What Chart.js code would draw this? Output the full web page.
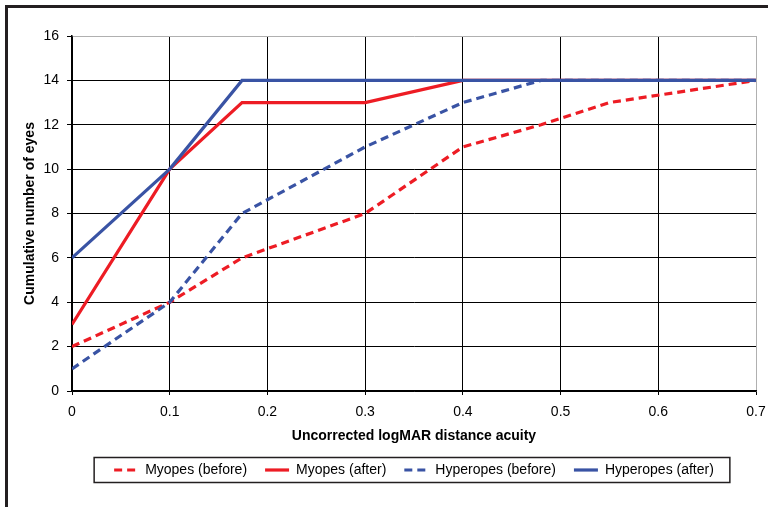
<!DOCTYPE html>
<html>
<head>
<meta charset="utf-8">
<script src="https://cdn.jsdelivr.net/npm/chart.js@4"></script>
<style>
  body { margin: 0; background: #fff; }
  #wrap { position: relative; width: 768px; height: 507px; }
  #frame {
    position: absolute; left: 5px; top: 5px; width: 780px; height: 520px;
    border-left: 3px solid #231f20; border-top: 3px solid #231f20;
  }
  canvas { position: absolute; left: 0; top: 0; }
</style>
</head>
<body>
<div id="wrap">
  <div id="frame"></div>
  <canvas id="chart" width="768" height="507"></canvas>
</div>
<script>

// data
const myopesBeforeX = [0, 0.1, 0.174, 0.3, 0.4, 0.48, 0.55, 0.7];
const myopesBeforeY = [2, 4, 6, 8, 11, 12, 13, 14];

const myopesAfterX = [0, 0.1, 0.174, 0.3, 0.4, 0.7];
const myopesAfterY = [3, 10, 13, 13, 14, 14];

const hyperBeforeX = [0, 0.1, 0.174, 0.3, 0.4, 0.48, 0.7];
const hyperBeforeY = [1, 4, 8, 11, 13, 14, 14];

const hyperAfterX = [0, 0.1, 0.174, 0.7];
const hyperAfterY = [6, 10, 14, 14];

const seriesNames = ["Myopes (before)", "Myopes (after)", "Hyperopes (before)", "Hyperopes (after)"];

const RED = "#ed1c24";
const BLUE = "#3953a4";

function toPoints(xs, ys) {
  return xs.map((x, i) => ({ x: x, y: ys[i] }));
}

function lineSet(label, xs, ys, color, dashed, order) {
  return {
    label: label,
    data: toPoints(xs, ys),
    borderColor: color,
    backgroundColor: color,
    borderWidth: 3.2,
    borderDash: dashed ? [8, 5] : [],
    pointRadius: 0,
    tension: 0,
    showLine: true,
    order: order
  };
}


// legend samples: take dash and width from the line, not the point
function legendLabels(chart) {
  const items = Chart.defaults.plugins.legend.labels.generateLabels(chart);
  items.forEach(it => {
    const ds = chart.data.datasets[it.datasetIndex];
    it.lineDash = ds.borderDash;
    it.lineWidth = 3.2;
    it.strokeStyle = ds.borderColor;
  });
  return items.sort((a, b) => a.datasetIndex - b.datasetIndex);
}


// draws the box round the legend
const legendBox = {
  id: "legendBox",
  afterDraw(chart) {
    const boxes = chart.legend.legendHitBoxes;
    if (!boxes || !boxes.length) return;
    const first = boxes[0];
    const last = boxes[boxes.length - 1];
    const cy = first.top + first.height / 2;
    const ctx = chart.ctx;
    ctx.save();
    ctx.strokeStyle = "#231f20";
    ctx.lineWidth = 1.5;
    ctx.strokeRect(first.left - 20, cy - 12.5, last.left + last.width - first.left + 36, 25);
    ctx.restore();
  }
};


new Chart(document.getElementById("chart"), {
  type: "scatter",
  data: {
    datasets: [
      lineSet(seriesNames[0], myopesBeforeX, myopesBeforeY, RED, true, 3),
      lineSet(seriesNames[1], myopesAfterX, myopesAfterY, RED, false, 2),
      lineSet(seriesNames[2], hyperBeforeX, hyperBeforeY, BLUE, true, 1),
      lineSet(seriesNames[3], hyperAfterX, hyperAfterY, BLUE, false, 0)
    ]
  },
  options: {
    responsive: false,
    animation: false,
    layout: { padding: { left: 18, top: 36, right: 12, bottom: 20 } },
    font: { family: "'Liberation Sans', Arial, sans-serif" },
    plugins: {
      tooltip: { enabled: false },
      legend: {
        position: "bottom",
        fullSize: false,
        labels: {
          color: "#000",
          font: { size: 14, family: "'Liberation Sans', Arial, sans-serif" },
          usePointStyle: true,
          pointStyle: "line",
          pointStyleWidth: 24,
          padding: 18,
          generateLabels: legendLabels
        }
      }
    },
    scales: {
      x: {
        type: "linear",
        min: 0,
        max: 0.7,
        afterFit: s => {
          s.height = 54;
          s.paddingLeft = 0;
          s.paddingRight = 0;
        },
        ticks: {
          stepSize: 0.1,
          color: "#000",
          padding: 9,
          font: { size: 14 },
          callback: v => String(Math.round(v * 10) / 10)
        },
        grid: {
          color: c => (c.tick && Math.abs(c.tick.value - 0.7) < 1e-6) ? "#b0b0b0" : "#000",
          tickColor: "#000",
          tickLength: 4,
          lineWidth: 1
        },
        border: { color: "#000", width: 1.5 },
        title: {
          display: true,
          text: "Uncorrected logMAR distance acuity",
          color: "#000",
          font: { size: 14, weight: "bold" },
          padding: { top: 4, bottom: 0 }
        }
      },
      y: {
        min: 0,
        max: 16,
        afterFit: s => { s.width = 54; },
        ticks: {
          stepSize: 2,
          color: "#000",
          padding: 8,
          font: { size: 14 }
        },
        grid: {
          color: c => (c.tick && c.tick.value === 16) ? "#b0b0b0" : "#000",
          tickColor: "#000",
          tickLength: 5,
          lineWidth: 1
        },
        border: { color: "#000", width: 1.5 },
        title: {
          display: true,
          text: "Cumulative number of eyes",
          color: "#000",
          font: { size: 14, weight: "bold" },
          padding: { top: 4, bottom: 4 }
        }
      }
    }
  },
  plugins: [legendBox]
});

</script>
</body>
</html>
